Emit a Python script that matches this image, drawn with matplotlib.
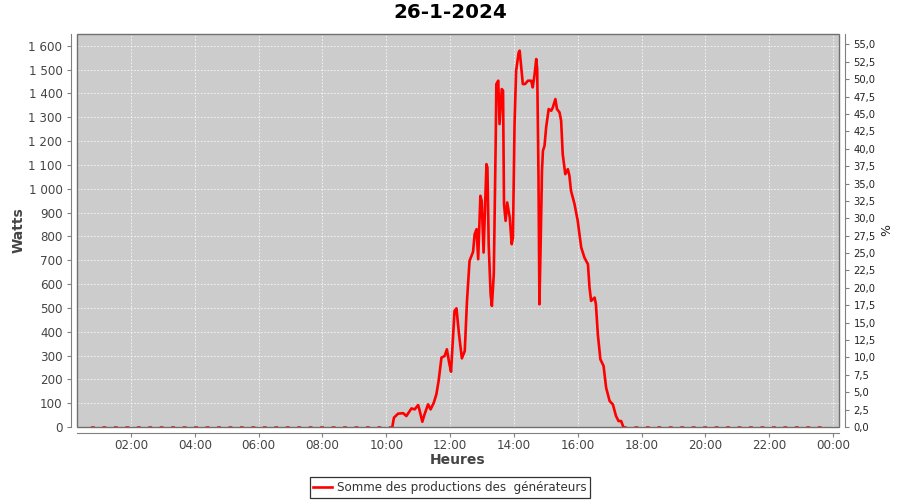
import numpy as np
import matplotlib
matplotlib.use("Agg")
import matplotlib.pyplot as plt
from matplotlib.patches import Rectangle
from matplotlib.ticker import FuncFormatter, MultipleLocator

plt.rcParams['font.family'] = ['DejaVu Sans']

title = "26-1-2024"
series_name = "Somme des productions des  générateurs"

# time in decimal hours, production in watts
hours = [0.75, 10.19, 10.24, 10.37, 10.53, 10.63, 10.79, 10.89, 11.00, 11.05, 11.13, 11.20,
         11.31, 11.39, 11.49, 11.57, 11.64, 11.73, 11.83, 11.90, 11.97, 12.03, 12.14,
         12.20, 12.28, 12.37, 12.46, 12.53, 12.61, 12.72, 12.77, 12.83, 12.88, 12.95,
         12.99, 13.05, 13.14, 13.17, 13.21, 13.27, 13.31, 13.37, 13.43, 13.45, 13.51,
         13.55, 13.62, 13.66, 13.69, 13.74, 13.79, 13.87, 13.93, 13.97, 14.02, 14.07,
         14.15, 14.18, 14.23, 14.28, 14.35, 14.44, 14.54, 14.59, 14.65, 14.70, 14.73,
         14.77, 14.80, 14.84, 14.88, 14.91, 14.96, 15.01, 15.09, 15.17, 15.22, 15.30,
         15.35, 15.43, 15.48, 15.53, 15.61, 15.69, 15.74, 15.79, 15.90, 16.00, 16.11,
         16.21, 16.32, 16.37, 16.42, 16.53, 16.57, 16.63, 16.71, 16.81, 16.89, 17.00,
         17.10, 17.20, 17.28, 17.36, 17.43, 23.75]
watts = [0, 0, 39, 56, 58, 46, 78, 74, 92, 67, 22, 53,
         95, 74, 102, 137, 193, 291, 298, 326, 270, 232, 487,
         498, 389, 288, 319, 529, 697, 735, 809, 830, 704, 970,
         949, 732, 1103, 1089, 767, 557, 508, 641, 1201, 1439, 1453,
         1271, 1418, 1411, 935, 865, 942, 879, 767, 795, 1271, 1495,
         1572, 1579, 1509, 1439, 1439, 1453, 1453, 1425, 1481, 1544, 1502,
         1061, 515, 781, 1075, 1159, 1180, 1257, 1334, 1327, 1341, 1376,
         1334, 1320, 1285, 1145, 1061, 1082, 1054, 991, 935, 865, 753,
         711, 683, 585, 529, 543, 515, 389, 284, 256, 165, 109,
         95, 46, 25, 25, 0, 0]

x_ticks = [2, 4, 6, 8, 10, 12, 14, 16, 18, 20, 22, 24]
x_tick_labels = ["02:00", "04:00", "06:00", "08:00", "10:00", "12:00",
                 "14:00", "16:00", "18:00", "20:00", "22:00", "00:00"]

h = np.array(hours)
w = np.array(watts)
nz = np.nonzero(w)[0]
i0, i1 = nz[0] - 1, nz[-1] + 1

fig = plt.figure(figsize=(9, 5), dpi=100)
ax = fig.add_axes([0.0856, 0.146, 0.8467, 0.786])
ax.set_facecolor('#CCCCCC')

red = '#FF0000'
ax.plot(h[:i0 + 1], w[:i0 + 1], color=red, lw=1.1, ls=(0, (2.5, 5)), zorder=3)
ax.plot(h[i1:], w[i1:], color=red, lw=1.1, ls=(0, (2.5, 5)), zorder=3)
ax.plot(h[i0:i1 + 1], w[i0:i1 + 1], color=red, lw=1.9, zorder=4, solid_joinstyle='round')

ax.set_xlim(0.31, 24.19)
ax.set_ylim(0, 1649)
ax.set_xticks(x_ticks)
ax.set_xticklabels(x_tick_labels)
ax.yaxis.set_major_locator(MultipleLocator(100))
ax.yaxis.set_major_formatter(FuncFormatter(lambda v, p: f"{int(v):,}".replace(",", " ")))
ax.grid(True, color='white', ls=(0, (2, 2)), lw=0.6, alpha=0.85)
ax.set_axisbelow(True)

for s in ['top', 'right']:
    ax.spines[s].set_visible(False)
for s in ['left', 'bottom']:
    ax.spines[s].set_position(('outward', 4))
    ax.spines[s].set_color('#808080')
ax.add_patch(Rectangle((0, 0), 1, 1, transform=ax.transAxes, fill=False,
                       ec='#707070', lw=1.0, clip_on=False, zorder=5))

ax.tick_params(axis='both', colors='#808080', labelcolor='#444444', labelsize=8.6,
               length=3, width=0.8)
ax.tick_params(axis='x', pad=1.5)

ax.set_ylabel("Watts", fontsize=10, fontweight='bold', color='#444444', labelpad=2)
ax.set_xlabel("Heures", fontsize=10, fontweight='bold', color='#444444', labelpad=1)
fig.text(0.5, 0.975, title, fontsize=14.3, fontweight='bold', ha='center', va='center')

ax2 = ax.twinx()
ax2.set_ylim(0, 56.5)
ax2.yaxis.set_major_locator(MultipleLocator(2.5))
ax2.yaxis.set_major_formatter(FuncFormatter(lambda v, p: f"{v:.1f}".replace(".", ",")))
for s in ['top', 'left', 'bottom']:
    ax2.spines[s].set_visible(False)
ax2.spines['right'].set_position(('outward', 4))
ax2.spines['right'].set_color('#808080')
ax2.tick_params(axis='y', colors='#808080', labelcolor='#222222', labelsize=7.2,
                length=3, width=0.8)
ax2.set_ylabel("%", fontsize=9, color='#222222', labelpad=3)

leg = fig.legend([ax.lines[2]], [series_name], loc='lower center',
                 bbox_to_anchor=(0.5, 0.0), fontsize=8.6, frameon=True,
                 fancybox=False, edgecolor='black', handlelength=1.6,
                 handletextpad=0.4, borderpad=0.3, borderaxespad=0.2)
leg.get_frame().set_linewidth(0.9)
for t in leg.get_texts():
    t.set_color('#333333')

fig.savefig("out.png", dpi=100)
